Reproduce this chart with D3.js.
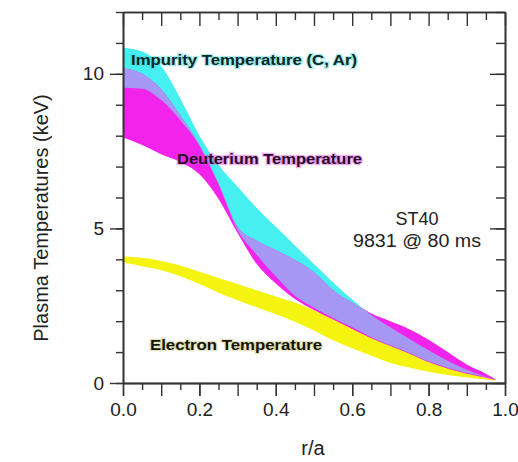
<!DOCTYPE html>
<html>
<head>
<meta charset="utf-8">
<script src="https://cdn.jsdelivr.net/npm/d3@7/dist/d3.min.js"></script>
<style>
  html, body { margin: 0; padding: 0; background: #fff; }
  svg { display: block; font-family: "Liberation Sans", Arial, sans-serif; }
</style>
</head>
<body>
<svg id="chart" width="518" height="462"></svg>
<script>
// ---- data ----
const radius        = [0, 0.05, 0.1, 0.15, 0.2, 0.25, 0.3, 0.35, 0.4, 0.45, 0.5, 0.55, 0.6, 0.65, 0.7, 0.75, 0.8, 0.85, 0.9, 0.95, 0.975];
const impurityHigh  = [10.84, 10.72, 10.25, 9.2, 8.0, 7.05, 6.35, 5.66, 5.05, 4.45, 3.85, 3.25, 2.7, 2.2, 1.8, 1.42, 1.06, 0.72, 0.43, 0.2, 0.1];
const impurityLow   = [9.55, 9.52, 9.15, 8.5, 7.68, 6.43, 4.95, 4.15, 3.45, 2.82, 2.43, 2.1, 1.8, 1.48, 1.22, 0.97, 0.7, 0.49, 0.32, 0.19, 0.1];
const deuteriumHigh = [10.19, 10.0, 9.5, 8.65, 7.7, 6.45, 5.05, 4.6, 4.3, 3.98, 3.58, 3.0, 2.6, 2.25, 2.0, 1.74, 1.4, 1.0, 0.6, 0.3, 0.12];
const deuteriumLow  = [7.94, 7.7, 7.4, 7.15, 6.75, 5.95, 4.85, 3.85, 3.22, 2.72, 2.36, 2.05, 1.75, 1.45, 1.2, 0.95, 0.68, 0.47, 0.3, 0.17, 0.1];
const electronHigh  = [4.1, 4.05, 3.95, 3.8, 3.6, 3.4, 3.2, 3.0, 2.8, 2.6, 2.35, 2.05, 1.78, 1.55, 1.28, 1.03, 0.8, 0.58, 0.4, 0.22, 0.1];
const electronLow   = [3.9, 3.78, 3.65, 3.45, 3.2, 2.92, 2.68, 2.45, 2.22, 1.98, 1.7, 1.38, 1.12, 0.88, 0.65, 0.5, 0.36, 0.26, 0.18, 0.11, 0.07];

const xTickLabels = [0, 0.2, 0.4, 0.6, 0.8, 1.0];
const yTickLabels = [0, 5, 10];
const yMinorTicks = [0,1,2,3,4,5,6,7,8,9,10,11,12];
const xMajorTicks = [0,0.1,0.2,0.3,0.4,0.5,0.6,0.7,0.8,0.9,1.0];
const xMinorTicks = [0.05,0.15,0.25,0.35,0.45,0.55,0.65,0.75,0.85,0.95];

// ---- layout ----
const svg = d3.select("#chart");
const L = 123, R = 505, T = 12, B = 383;
const x = d3.scaleLinear().domain([0, 1]).range([L, R]);
const y = d3.scaleLinear().domain([0, 12]).range([B, T]);

const band = (hi, lo) => radius.map((r, i) => ({ r, hi: hi[i], lo: lo[i] }));
const area = d3.area().x(d => x(d.r)).y0(d => y(d.lo)).y1(d => y(d.hi)).curve(d3.curveMonotoneX);

const defs = svg.append("defs");
defs.append("clipPath").attr("id", "impClip")
  .append("path").attr("d", area(band(impurityHigh, impurityLow)));

const COL_CYAN = "#44f0f0", COL_MAG = "#f224ec", COL_LAV = "#a797f4", COL_YEL = "#f4f410";

svg.append("path").attr("d", area(band(electronHigh, electronLow))).attr("fill", COL_YEL);
svg.append("path").attr("d", area(band(impurityHigh, impurityLow))).attr("fill", COL_CYAN);
svg.append("path").attr("d", area(band(deuteriumHigh, deuteriumLow))).attr("fill", COL_MAG);
svg.append("path").attr("d", area(band(deuteriumHigh, deuteriumLow))).attr("fill", COL_LAV)
  .attr("clip-path", "url(#impClip)");

// ---- axes ----
const axisColor = "#333";
function styleAxis(g) {
  g.selectAll("path.domain").attr("stroke", axisColor).attr("stroke-width", 1.6);
  g.selectAll(".tick line").attr("stroke", axisColor).attr("stroke-width", 1.4);
  g.selectAll(".tick text").attr("fill", "#222").style("font-size", "19px")
    .style("font-family", "'Liberation Sans', Arial, sans-serif");
}

svg.append("g").attr("transform", `translate(0,${B})`)
  .call(d3.axisBottom(x).tickValues(xMinorTicks).tickSize(7).tickSizeOuter(0).tickFormat(""))
  .call(styleAxis);
svg.append("g").attr("transform", `translate(0,${B})`)
  .call(d3.axisBottom(x).tickValues(xMajorTicks).tickSize(13).tickSizeOuter(0).tickFormat(""))
  .call(styleAxis);
svg.append("g").attr("transform", `translate(0,${B})`)
  .call(d3.axisBottom(x).tickValues(xTickLabels).tickSize(13).tickPadding(7).tickSizeOuter(0).tickFormat(d3.format(".1f")))
  .call(styleAxis);

svg.append("g").attr("transform", `translate(0,${T})`)
  .call(d3.axisTop(x).tickValues(xMinorTicks).tickSize(-8).tickSizeOuter(0).tickFormat(""))
  .call(styleAxis);
svg.append("g").attr("transform", `translate(0,${T})`)
  .call(d3.axisTop(x).tickValues(xMajorTicks).tickSize(-14).tickSizeOuter(0).tickFormat(""))
  .call(styleAxis);

svg.append("g").attr("transform", `translate(${L},0)`)
  .call(d3.axisLeft(y).tickValues(yMinorTicks).tickSize(7).tickSizeOuter(0).tickFormat(""))
  .call(styleAxis);
svg.append("g").attr("transform", `translate(${L},0)`)
  .call(d3.axisLeft(y).tickValues(yTickLabels).tickSize(13).tickPadding(6).tickSizeOuter(0).tickFormat(d3.format("d")))
  .call(styleAxis);

svg.append("g").attr("transform", `translate(${R},0)`)
  .call(d3.axisRight(y).tickValues(yMinorTicks).tickSize(-9).tickSizeOuter(0).tickFormat(""))
  .call(styleAxis);
svg.append("g").attr("transform", `translate(${R},0)`)
  .call(d3.axisRight(y).tickValues(yTickLabels).tickSize(-15).tickSizeOuter(0).tickFormat(""))
  .call(styleAxis);

// ---- axis titles ----
svg.append("text").attr("x", 313).attr("y", 455).attr("text-anchor", "middle")
  .attr("fill", "#222").style("font-size", "20px").text("r/a");
svg.append("text").attr("transform", "translate(48,218) rotate(-90)").attr("text-anchor", "middle")
  .attr("fill", "#222").style("font-size", "20px").text("Plasma Temperatures (keV)");

// ---- band labels ----
function bandLabel(txt, px, py, width, fill, halo) {
  svg.append("text").attr("x", px).attr("y", py)
    .attr("textLength", width).attr("lengthAdjust", "spacingAndGlyphs")
    .style("font-size", "14px").style("font-weight", "bold")
    .attr("fill", "none").attr("stroke", halo).attr("stroke-width", 2.5).attr("stroke-opacity", 0.45)
    .text(txt);
  svg.append("text").attr("x", px).attr("y", py)
    .attr("textLength", width).attr("lengthAdjust", "spacingAndGlyphs")
    .style("font-size", "14px").style("font-weight", "bold")
    .attr("fill", fill).text(txt);
}
bandLabel("Impurity Temperature (C, Ar)", 131, 65, 226, "#0d2626", "#40d8d8");
bandLabel("Deuterium Temperature", 177, 164, 185, "#260a26", "#e040e0");
bandLabel("Electron Temperature", 150, 350, 172, "#141408", "#c8c870");

// ---- annotation ----
svg.append("text").attr("x", 417).attr("y", 225).attr("text-anchor", "middle")
  .attr("fill", "#222").style("font-size", "18px").text("ST40");
svg.append("text").attr("x", 417).attr("y", 247).attr("text-anchor", "middle")
  .attr("fill", "#222").style("font-size", "18px")
  .attr("textLength", 128).attr("lengthAdjust", "spacingAndGlyphs").text("9831 @ 80 ms");
</script>
</body>
</html>
